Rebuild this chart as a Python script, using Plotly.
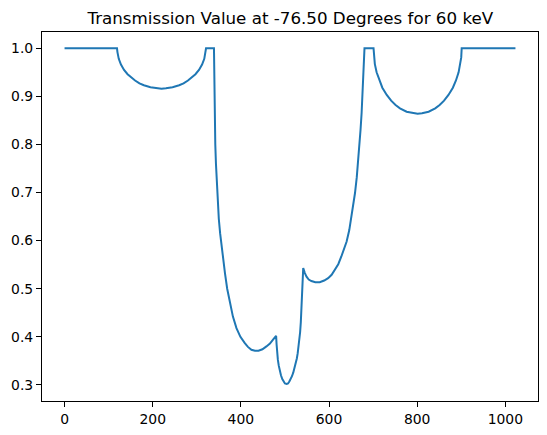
import plotly.graph_objects as go

# Pixel index (x) and transmission value (y)
pixel = [0, 119, 120, 123, 128, 135, 143, 150, 160, 170, 180, 195, 210, 220,
         230, 245, 260, 270, 280, 290, 297, 305, 312, 317, 320, 321,
         339, 339.5, 340, 341, 342, 343.5, 345, 347, 350, 353, 356, 360, 364, 369, 375, 382,
         390, 399, 409, 416, 424, 432, 440, 449, 458, 466, 473, 480,
         481, 482, 484, 486, 488.5, 491, 494, 497, 500, 504, 507, 510, 513, 516, 519, 522,
         525, 527, 529, 531, 533, 534.5, 536, 537, 538, 539, 540, 541.5,
         545, 549, 554, 560, 569, 579, 589, 598, 606, 613, 621, 628, 634, 640, 646, 651,
         655, 659, 663, 666, 669, 671.5, 674, 676, 678, 679, 680, 680.5,
         701, 702, 704, 708, 714, 721, 731, 741, 751, 761, 776, 791, 801,
         811, 826, 841, 851, 861, 871, 881, 888, 894, 898, 900, 901, 1023]
transmission = [1.0, 1.0, 0.992, 0.978, 0.966, 0.955, 0.946, 0.940, 0.933, 0.927, 0.923, 0.919, 0.917, 0.916,
                0.917, 0.919, 0.923, 0.927, 0.933, 0.940, 0.946, 0.955, 0.966, 0.978, 0.992, 1.0,
                1.0, 0.95, 0.90, 0.84, 0.80, 0.76, 0.725, 0.69, 0.645, 0.615, 0.59, 0.56, 0.532, 0.50, 0.47, 0.442,
                0.418, 0.40, 0.387, 0.379, 0.373, 0.371, 0.371, 0.374, 0.380, 0.386, 0.394, 0.402,
                0.385, 0.37, 0.352, 0.34, 0.328, 0.32, 0.312, 0.306, 0.303, 0.302, 0.303, 0.307, 0.312, 0.318, 0.326, 0.335,
                0.346, 0.355, 0.366, 0.38, 0.394, 0.41, 0.43, 0.45, 0.475, 0.50, 0.52, 0.543,
                0.533, 0.525, 0.519, 0.516, 0.5135, 0.5135, 0.517, 0.522, 0.529, 0.539, 0.551, 0.567, 0.581, 0.598, 0.622, 0.650,
                0.673, 0.699, 0.732, 0.761, 0.795, 0.830, 0.866, 0.899, 0.94, 0.969, 0.99, 1.0,
                1.0, 0.981, 0.967, 0.950, 0.933, 0.918, 0.903, 0.891, 0.882, 0.875, 0.868, 0.8647, 0.864,
                0.8647, 0.868, 0.875, 0.882, 0.891, 0.903, 0.918, 0.933, 0.950, 0.967, 0.981, 1.0, 1.0]

x_ticks = [0, 200, 400, 600, 800, 1000]
y_ticks = [0.3, 0.4, 0.5, 0.6, 0.7, 0.8, 0.9, 1.0]
y_tick_text = ["0.3", "0.4", "0.5", "0.6", "0.7", "0.8", "0.9", "1.0"]
title_text = "Transmission Value at -76.50 Degrees for 60 keV"

fig = go.Figure()
fig.add_trace(go.Scatter(x=pixel, y=transmission, mode="lines",
                         line=dict(color="#1f77b4", width=2),
                         showlegend=False))

axis_common = dict(showline=True, mirror=True, linecolor="black", linewidth=1.1,
                   ticks="outside", ticklen=5, tickwidth=1, tickcolor="black",
                   showgrid=False, zeroline=False,
                   tickfont=dict(family="DejaVu Sans", size=13.9, color="black"))

fig.update_layout(
    width=547, height=435,
    margin=dict(l=42, r=9, t=32, b=34),
    paper_bgcolor="white", plot_bgcolor="white",
    title=dict(text=title_text, x=290.3 / 547, xanchor="center",
               y=1 - 18 / 435, yanchor="middle", yref="container",
               font=dict(family="DejaVu Sans", size=16.7, color="black")),
    xaxis=dict(range=[-51.15, 1074.15], tickvals=x_ticks, **axis_common),
    yaxis=dict(range=[0.2665, 1.0338], tickvals=y_ticks, ticktext=y_tick_text, **axis_common),
)

fig.write_html("out.html")
